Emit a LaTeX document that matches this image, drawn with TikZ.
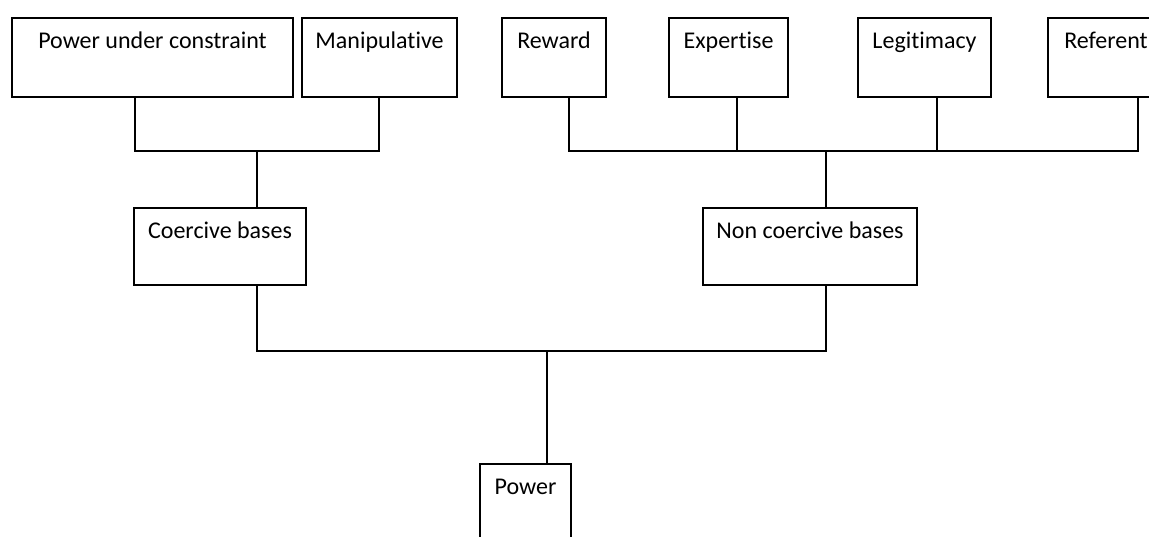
\documentclass[tikz,border=0pt]{standalone}
\usepackage{fontspec}
\setmainfont{Carlito}[Ligatures={NoCommon,NoContextual}]
\usetikzlibrary{positioning}

\begin{document}
\begin{tikzpicture}[
    x=0.5pt, y=-0.5pt,
    base/.style={rectangle, draw, line width=0.9pt, inner sep=0pt, anchor=north, font=\fontsize{12}{14}\selectfont, text height=15.3pt, text depth=24.2pt},
    mid/.style={base, text depth=23.2pt},
    link/.style={line width=0.9pt}
]
\useasboundingbox (0,0) rectangle (1149,536);
\clip (0,0) rectangle (1149,536);

% top row
\node[base, minimum width=140.5pt] (constraint) at (152.5,17) {Power under constraint};
\node[base, minimum width=77.5pt] (manip) at (379.5,17) {Manipulative};
\node[base, minimum width=52pt] (reward) at (554,17) {Reward};
\node[base, minimum width=59.5pt] (expertise) at (728.5,17) {Expertise};
\node[base, minimum width=66.5pt] (legitimacy) at (924.5,17) {Legitimacy};
\node[base, minimum width=58pt] (referent) at (1106,17) {Referent};

% middle row
\node[mid, minimum width=86pt] (coercive) at (220,207) {Coercive bases};
\node[mid, minimum width=107pt] (noncoercive) at (810,207) {Non coercive bases};

% root
\node[base, minimum width=45.5pt] (power) at (525.5,463) {Power};

\coordinate (tapC) at (135,151);
\coordinate (tapM) at (379,151);
\coordinate (tapRw) at (569,151);
\coordinate (tapEx) at (737,151);
\coordinate (tapLg) at (937,151);
\coordinate (tapRf) at (1138,151);
\coordinate (hubL) at (257,151);
\coordinate (hubR) at (826,151);
\coordinate (rootL) at (257,351);
\coordinate (rootR) at (826,351);
\coordinate (root) at (547,351);

\draw[link] (constraint.south -| tapC) -- (tapC) -- (tapM) -- (manip.south -| tapM);
\draw[link] (hubL) -- (coercive.north -| hubL);
\draw[link] (reward.south -| tapRw) -- (tapRw) -- (tapRf) -- (referent.south -| tapRf);
\draw[link] (expertise.south -| tapEx) -- (tapEx);
\draw[link] (legitimacy.south -| tapLg) -- (tapLg);
\draw[link] (hubR) -- (noncoercive.north -| hubR);
\draw[link] (coercive.south -| rootL) -- (rootL) -- (rootR) -- (noncoercive.south -| rootR);
\draw[link] (root) -- (power.north -| root);

\end{tikzpicture}
\end{document}
